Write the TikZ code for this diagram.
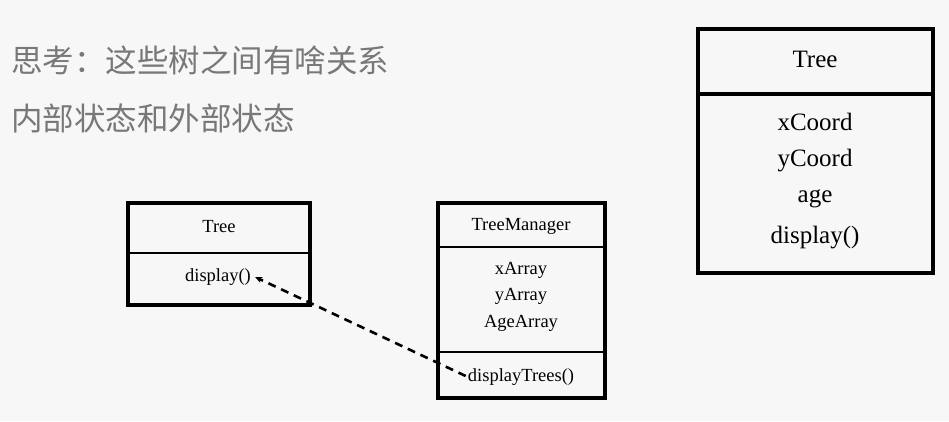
\documentclass[tikz,border=0pt]{standalone}
\usepackage{fontspec}
\setmainfont{Liberation Serif}
\newfontfamily\cjk{Noto Sans CJK SC}
\usetikzlibrary{arrows.meta}
\definecolor{bg}{RGB}{247,247,247}
\definecolor{cjkgray}{RGB}{120,120,120}
\tikzset{
  umlbox/.style={draw=black, line width=3.2pt, inner sep=0pt},
  divider/.style={draw=black, line width=2.8pt},
  smalltxt/.style={inner sep=0pt, font=\fontsize{18.5}{20}\selectfont},
  bigtxt/.style={inner sep=0pt, font=\fontsize{25}{28}\selectfont},
  cjktxt/.style={inner sep=0pt, anchor=west, text=cjkgray, font=\cjk\fontsize{31.5}{34}\selectfont},
  dep/.style={draw=black, line width=2.6pt, dash pattern=on 8pt off 6pt, -{Stealth[length=7pt,width=6pt]}}
}
\begin{document}
\begin{tikzpicture}[x=1pt,y=-1pt]
\useasboundingbox (0,0) rectangle (949,421);
\fill[bg] (0,0) rectangle (949,421);

% Chinese text
\node[cjktxt] (q1) at (11,60) {思考：这些树之间有啥关系};
\node[cjktxt] (q2) at (11,118) {内部状态和外部状态};

% Small Tree box
\node[umlbox, minimum width=182pt, minimum height=102pt] (t1) at (219,254) {};
\coordinate (t1dl) at (128,253);
\coordinate (t1dr) at (310,253);
\draw[divider] (t1dl) -- (t1dr);
\node[smalltxt] (t1name) at (219,227) {Tree};
\node[smalltxt] (disp) at (218,277) {display()};

% TreeManager box
\node[umlbox, minimum width=167pt, minimum height=195pt] (tm) at (521.5,300.5) {};
\coordinate (tmd1l) at (438,247);
\coordinate (tmd1r) at (605,247);
\coordinate (tmd2l) at (438,352);
\coordinate (tmd2r) at (605,352);
\draw[divider] (tmd1l) -- (tmd1r);
\draw[divider] (tmd2l) -- (tmd2r);
\node[smalltxt] (tmname) at (521,226) {TreeManager};
\node[smalltxt] (xa) at (521,270) {xArray};
\node[smalltxt] (ya) at (521,296) {yArray};
\node[smalltxt] (aa) at (521,323) {AgeArray};
\node[smalltxt] (dt) at (521,377) {displayTrees()};

% dependency arrow
\draw[dep] ([xshift=-2pt,yshift=1pt]dt.west) -- ([xshift=4pt]disp.east);

% Big Tree box
\node[umlbox, line width=3.6pt, minimum width=235pt, minimum height=244pt] (t2) at (815.5,151) {};
\coordinate (t2dl) at (698,94);
\coordinate (t2dr) at (933,94);
\draw[divider, line width=3.2pt] (t2dl) -- (t2dr);
\node[bigtxt] (t2name) at (815,59) {Tree};
\node[bigtxt] (xc) at (815,122) {xCoord};
\node[bigtxt] (yc) at (815,161) {yCoord};
\node[bigtxt] (ag) at (815,199) {age};
\node[bigtxt] (dp) at (815,238) {display()};
\end{tikzpicture}
\end{document}
